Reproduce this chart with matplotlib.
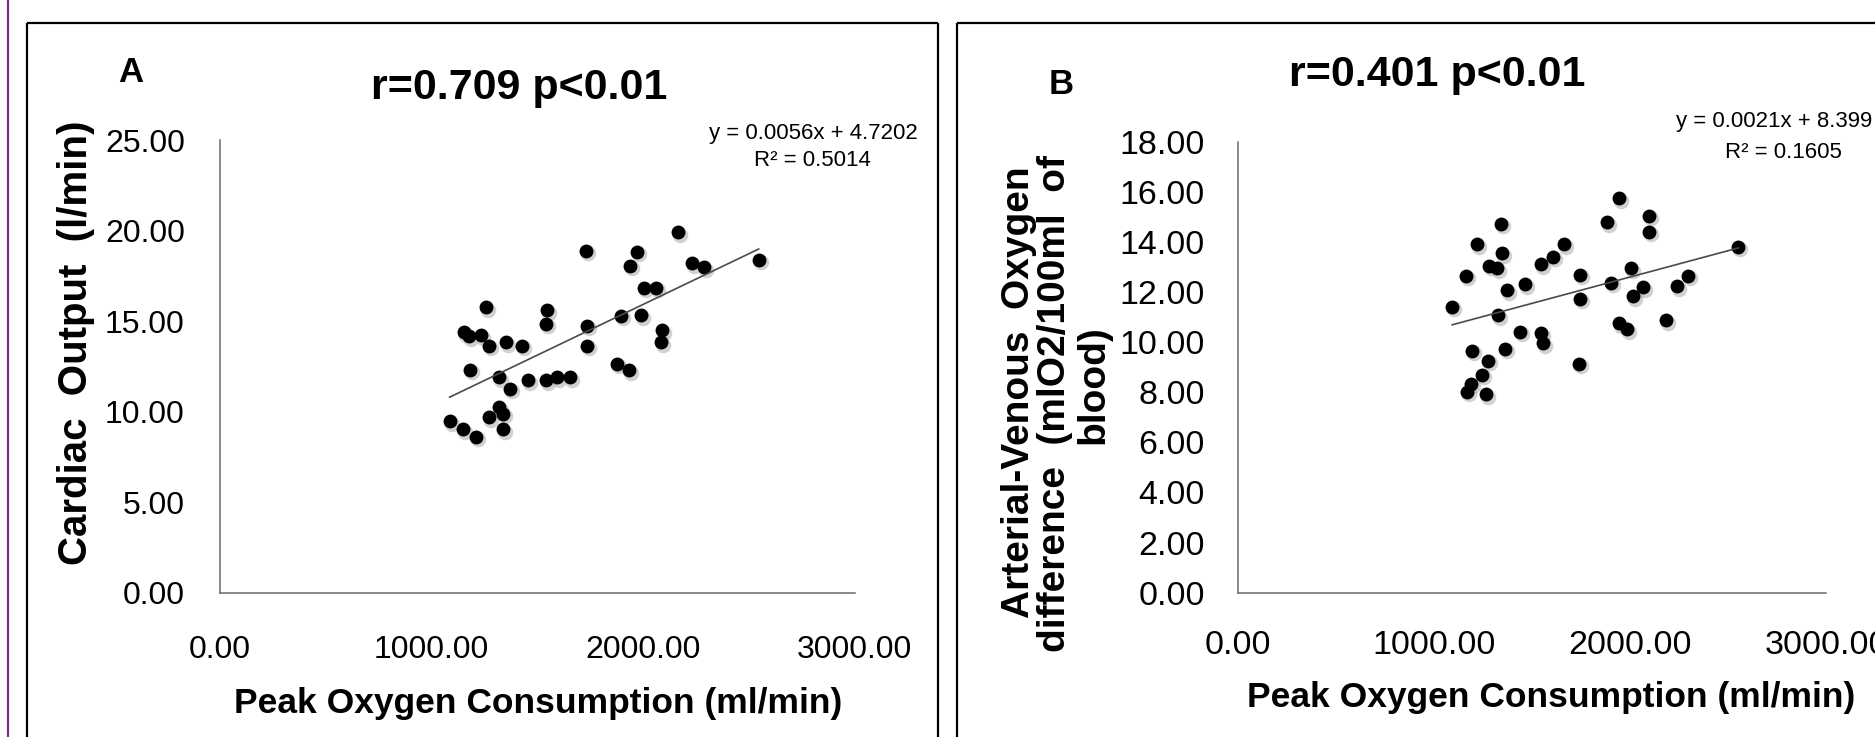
import matplotlib
matplotlib.use("Agg")
import matplotlib.pyplot as plt
from matplotlib.lines import Line2D
import matplotlib.transforms as mtransforms
import numpy as np

plt.rcParams['font.family'] = ['Liberation Sans', 'DejaVu Sans']

# ---------------- data ----------------
vo2_a = [1087, 1150, 1212, 1273, 1319, 1341, 1341, 1185, 1319, 1371, 1458, 1540, 1596, 1656,
         1155, 1179, 1237, 1273, 1355, 1428, 1257, 1549, 1540, 1729, 1735, 1738, 1877, 1932,
         1897, 1993, 1973, 1938, 2004, 2061, 2090, 2086, 2168, 2231, 2287, 2547]
cardiac_output = [9.49, 9.03, 8.63, 9.71, 10.25, 9.88, 9.03, 12.31, 11.90, 11.28, 11.75, 11.75, 11.90, 11.90,
                  14.39, 14.18, 14.22, 13.65, 13.85, 13.65, 15.77, 15.60, 14.85, 18.89, 14.75, 13.65, 12.64, 12.29,
                  15.29, 15.34, 18.82, 18.06, 16.85, 16.85, 14.51, 13.85, 19.91, 18.20, 17.99, 18.39]

vo2_b = [1092, 1160, 1219, 1342, 1347, 1279, 1323, 1374, 1463, 1325, 1192, 1276, 1242, 1186,
         1165, 1264, 1362, 1436, 1546, 1556, 1546, 1606, 1662, 1743, 1743, 1738, 1881, 1942,
         1903, 2004, 2015, 2068, 1944, 1985, 2097, 2097, 2181, 2240, 2296, 2553]
avo2_diff = [11.41, 12.64, 13.91, 14.73, 13.54, 13.04, 12.94, 12.08, 12.32, 11.08, 9.65, 9.25, 8.69, 8.33,
             8.02, 7.92, 9.74, 10.42, 10.35, 9.95, 13.10, 13.41, 13.91, 12.68, 11.73, 9.14, 14.78, 15.74,
             12.37, 12.94, 11.84, 12.19, 10.75, 10.51, 15.04, 14.41, 10.87, 12.24, 12.65, 13.81]

fit_a = (0.0056, 4.7202)
fit_b = (0.0021, 8.399)

xticks = [0, 1000, 2000, 3000]
yticks_a = [0, 5, 10, 15, 20, 25]
yticks_b = [0, 2, 4, 6, 8, 10, 12, 14, 16, 18]

W, H = 1875, 737
fig = plt.figure(figsize=(W / 100, H / 100), dpi=100)
fig.patch.set_facecolor('white')


def fx(px):
    return px / W


def fy(py):
    return 1 - py / H


def make_axes(left, right, top, bottom):
    return fig.add_axes([fx(left), fy(bottom), fx(right) - fx(left), fy(top) - fy(bottom)])


def style(ax, ylim, yticks, tick_fs, ypad, xpad):
    ax.set_xlim(0, 3000)
    ax.set_ylim(*ylim)
    ax.set_xticks(xticks)
    ax.set_yticks(yticks)
    ax.set_xticklabels([f"{v:.2f}" for v in xticks])
    ax.set_yticklabels([f"{v:.2f}" for v in yticks])
    for s in ['top', 'right']:
        ax.spines[s].set_visible(False)
    for s in ['left', 'bottom']:
        ax.spines[s].set_color('#6a6a6a')
        ax.spines[s].set_linewidth(1.1)
    ax.tick_params(axis='both', length=0, labelsize=tick_fs, colors='black')
    ax.tick_params(axis='y', pad=ypad)
    ax.tick_params(axis='x', pad=xpad)
    ax.set_facecolor('none')
    for lab in ax.get_xticklabels() + ax.get_yticklabels():
        lab.set_clip_on(False)


def scatter_with_shadow(ax, x, y):
    shadow = mtransforms.offset_copy(ax.transData, fig=fig, x=2.0, y=-2.5, units='dots')
    ax.scatter(x, y, s=125, color='#9a9a9a', alpha=0.45, linewidths=0, transform=shadow, zorder=2,
               clip_on=False)
    ax.scatter(x, y, s=100, color='black', linewidths=0, zorder=3, clip_on=False)


def trend(ax, x, fit):
    xs = np.array([min(x), max(x)])
    ax.plot(xs, fit[0] * xs + fit[1], color='#4a4a4a', lw=1.2, zorder=4)


# Panel A
axA = make_axes(219.5, 854.6, 140, 593)
style(axA, (0, 25), yticks_a, 23, 25, 30)
scatter_with_shadow(axA, vo2_a, cardiac_output)
trend(axA, vo2_a, fit_a)

# Panel B
axB = make_axes(1238.3, 1826, 141.7, 592.7)
style(axB, (0, 18), yticks_b, 24.5, 24, 27)
scatter_with_shadow(axB, vo2_b, avo2_diff)
trend(axB, vo2_b, fit_b)

# Texts
fig.text(fx(131), fy(73), 'A', fontsize=25, fontweight='bold', ha='center', va='center')
fig.text(fx(1061), fy(84), 'B', fontsize=25, fontweight='bold', ha='center', va='center')
fig.text(fx(519), fy(88), 'r=0.709 p<0.01', fontsize=31, fontweight='bold', ha='center', va='center')
fig.text(fx(1437), fy(75), 'r=0.401 p<0.01', fontsize=31, fontweight='bold', ha='center', va='center')

fig.text(fx(813), fy(133), f'y = {fit_a[0]}x + {fit_a[1]}', fontsize=16, ha='center', va='center')
fig.text(fx(812), fy(160), 'R² = 0.5014', fontsize=16, ha='center', va='center')
fig.text(fx(1676), fy(122), f'y = {fit_b[0]}x + {fit_b[1]}', fontsize=16, ha='left', va='center')
fig.text(fx(1783), fy(152), 'R² = 0.1605', fontsize=16, ha='center', va='center')

fig.text(fx(538), fy(703), 'Peak Oxygen Consumption (ml/min)', fontsize=25.5, fontweight='bold',
         ha='center', va='center')
fig.text(fx(1551), fy(697), 'Peak Oxygen Consumption (ml/min)', fontsize=25.5, fontweight='bold',
         ha='center', va='center')

fig.text(fx(76), fy(343), 'Cardiac  Output  (l/min)', fontsize=29, fontweight='bold', rotation=90,
         ha='center', va='center')
fig.text(fx(1019), fy(392), 'Arterial-Venous  Oxygen', fontsize=28, fontweight='bold', rotation=90,
         ha='center', va='center')
fig.text(fx(1055), fy(404), 'difference  (mlO2/100ml  of', fontsize=28, fontweight='bold', rotation=90,
         ha='center', va='center')
fig.text(fx(1093), fy(385), 'blood)', fontsize=28, fontweight='bold', rotation=90,
         ha='center', va='center')

# Frames
def fline(xs, ys, color='black', lw=1.6):
    fig.add_artist(Line2D([fx(v) for v in xs], [fy(v) for v in ys], color=color, lw=lw,
                          transform=fig.transFigure, solid_capstyle='butt'))

fline([27, 27], [737, 23])
fline([27, 938], [23, 23])
fline([938, 938], [23, 737])
fline([957, 957], [737, 23])
fline([957, 1875], [23, 23])
fline([8, 8], [0, 737], color='#7B2D8E', lw=1.6)

fig.savefig('out.png', dpi=100, facecolor='white')
